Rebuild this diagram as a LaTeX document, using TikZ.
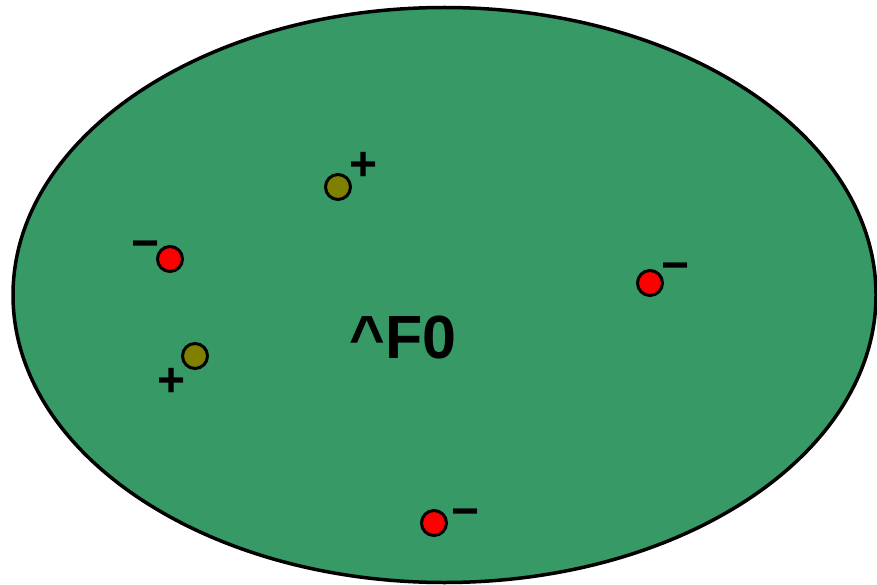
\documentclass[tikz,border=0pt]{standalone}
\usepackage{fontspec}
\setmainfont{Liberation Sans}
\usetikzlibrary{positioning}
\definecolor{cellgreen}{RGB}{54,153,102}
\definecolor{olivecharge}{RGB}{128,128,0}

\begin{document}
\begin{tikzpicture}[
  x=1pt,y=-1pt,
  negdot/.style={
    draw,
    circle,
    line width=3pt,
    fill=red,
    minimum size=25pt,
    inner sep=0pt
  },
  posdot/.style={
    negdot,
    fill=olivecharge
  },
  sign/.style={
    inner sep=0pt,
    font=\fontsize{48}{48}\selectfont\bfseries
  }
]
\useasboundingbox (0,0) rectangle (877,585);
\draw[line width=3.5pt,fill=cellgreen] (444.5,295) ellipse [x radius=431.5,y radius=287.5];
\node[anchor=base,font=\fontsize{61}{61}\selectfont\bfseries] (lbl) at (403,358) {\textasciicircum F0};
% charges
\node[posdot] (p1) at (338,187) {};
\node[sign] (p1s) at (364,166) {+};
\node[negdot] (n1) at (170,259) {};
\node[sign] (n1s) at (146,250) {−};
\node[negdot] (n2) at (650,283) {};
\node[sign] (n2s) at (676,272) {−};
\node[posdot] (p2) at (195,356) {};
\node[sign] (p2s) at (172,382) {+};
\node[negdot] (n3) at (434,523) {};
\node[sign] (n3s) at (466,518) {−};
\end{tikzpicture}
\end{document}
